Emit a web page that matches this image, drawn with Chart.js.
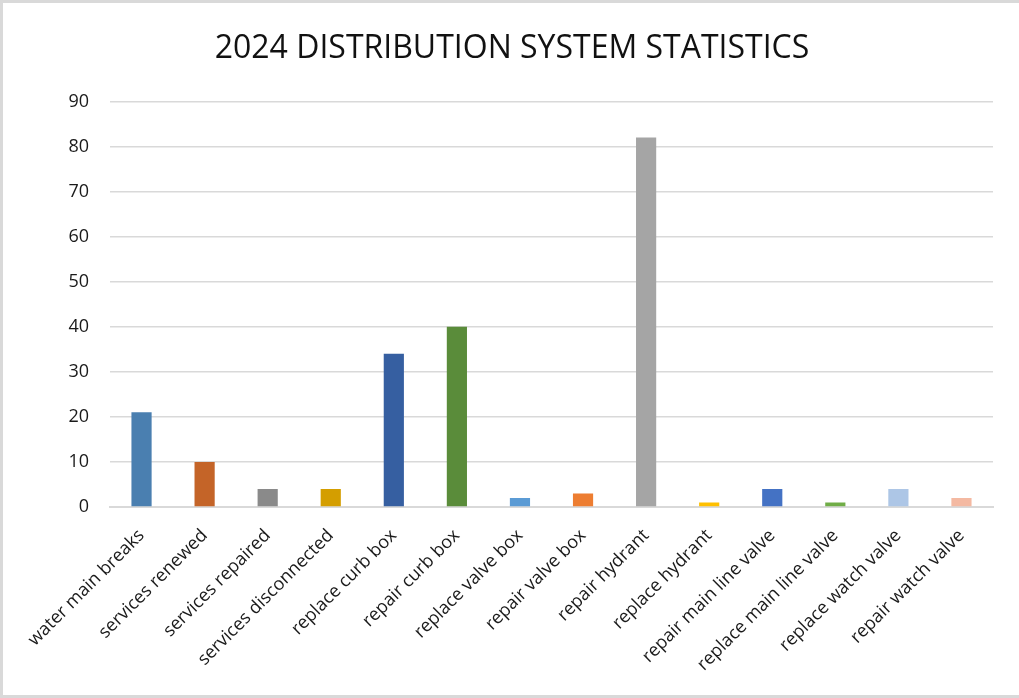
<!DOCTYPE html>
<html>
<head>
<meta charset="utf-8">
<script src="https://cdn.jsdelivr.net/npm/chart.js@4"></script>
<style>
  html, body { margin: 0; padding: 0; background: #fff; }
  #wrap { position: absolute; left: 0; top: 0; width: 1019px; height: 698px; box-sizing: border-box; border: 3px solid #d9d9d9; border-right: none; }
  canvas { position: absolute; left: 0; top: 0; }
</style>
</head>
<body>
<div id="wrap"></div>
<canvas id="statsChart" width="1019" height="698"></canvas>
<script>
const categories = [
    'water main breaks', 'services renewed', 'services repaired', 'services disconnected',
    'replace curb box', 'repair curb box', 'replace valve box', 'repair valve box',
    'repair hydrant', 'replace hydrant', 'repair main line valve', 'replace main line valve',
    'replace watch valve', 'repair watch valve'
];
const counts = [21, 10, 4, 4, 34, 40, 2, 3, 82, 1, 4, 1, 4, 2];
const barColors = [
    '#4a7fb0', '#c46428', '#8a8a8a', '#d49e00', '#365fa1', '#5a8c3a', '#5b9bd5',
    '#ed7d31', '#a5a5a5', '#ffc000', '#4472c4', '#70ad47', '#adc6e6', '#f4b9a2'
];
const yTicks = { min: 0, max: 90, step: 10 };

const fontFamily = "'Open Sans', 'Liberation Sans', sans-serif";

const ctx = document.getElementById('statsChart').getContext('2d');
new Chart(ctx, {
    type: 'bar',
    data: {
        labels: categories,
        datasets: [{
            data: counts,
            backgroundColor: barColors,
            borderWidth: 0,
            categoryPercentage: 1,
            barPercentage: 0.32
        }]
    },
    options: {
        responsive: false,
        animation: false,
        // left/right padding also centres the title a little right of the canvas middle
        layout: { padding: { left: 31, right: 26, top: 0, bottom: 5 } },
        plugins: {
            legend: { display: false },
            tooltip: { enabled: false },
            title: {
                display: true,
                text: '2024 DISTRIBUTION SYSTEM STATISTICS',
                color: '#111',
                font: { family: fontFamily, size: 32, weight: 'normal' },
                padding: { top: 30, bottom: 33 }
            }
        },
        scales: {
            x: {
                grid: { display: false },
                border: { color: '#d9d9d9', width: 2 },
                ticks: {
                    color: '#1a1a1a',
                    font: { family: fontFamily, size: 18 },
                    minRotation: 45,
                    maxRotation: 45,
                    autoSkip: false,
                    padding: 10
                },
                afterFit(scale) { scale.height = 186; }
            },
            y: {
                min: yTicks.min,
                max: yTicks.max,
                grid: { color: '#d9d9d9', lineWidth: 1.5, drawTicks: false },
                border: { display: false },
                ticks: {
                    stepSize: yTicks.step,
                    color: '#1a1a1a',
                    font: { family: fontFamily, size: 18 },
                    padding: 21
                },
                afterFit(scale) { scale.width = 79; }
            }
        }
    }
});
</script>
</body>
</html>
